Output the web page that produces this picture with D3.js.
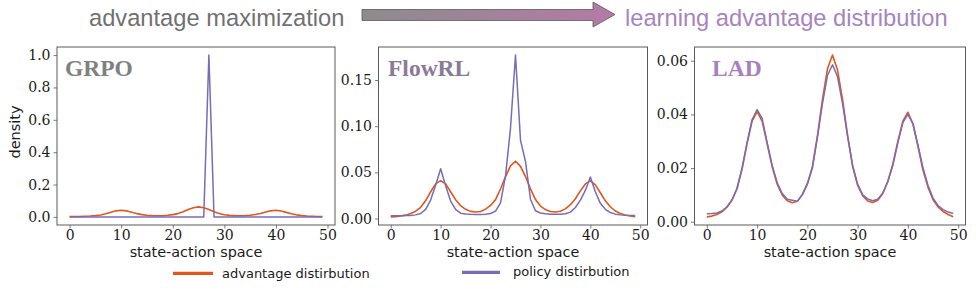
<!DOCTYPE html>
<html>
<head>
<meta charset="utf-8">
<script src="https://cdn.jsdelivr.net/npm/d3@7"></script>
<style>
  html, body { margin: 0; padding: 0; background: #ffffff; }
  svg { display: block; }
</style>
</head>
<body>
<svg id="chart" width="976" height="293"></svg>
<script>
// ---------------- data ----------------
const advantage = [0.0018,0.0021,0.0027,0.0037,0.0054,0.0080,0.0122,0.0195,0.0290,0.0375,
                   0.0410,0.0375,0.0290,0.0205,0.0140,0.0100,0.0078,0.0071,0.0076,0.0102,
                   0.0142,0.0205,0.0320,0.0455,0.0570,0.0621,0.0565,0.0455,0.0322,0.0206,
                   0.0135,0.0097,0.0077,0.0072,0.0080,0.0105,0.0150,0.0215,0.0300,0.0375,
                   0.0408,0.0365,0.0280,0.0192,0.0128,0.0082,0.0055,0.0038,0.0027,0.0019];

const grpoPolicy = [0,0,0,0,0,0,0,0,0,0,
                    0,0,0,0,0,0,0,0,0,0,
                    0,0,0,0,0,0,0,1.0,0,0,
                    0,0,0,0,0,0,0,0,0,0,
                    0,0,0,0,0,0,0,0,0,0];

const flowrlPolicy = [0.0030,0.0030,0.0031,0.0032,0.0034,0.0040,0.0055,0.0100,0.0200,0.0360,
                      0.0540,0.0355,0.0190,0.0100,0.0058,0.0050,0.0046,0.0044,0.0045,0.0048,
                      0.0055,0.0080,0.0170,0.0460,0.0980,0.1770,0.0850,0.0620,0.0210,0.0085,
                      0.0060,0.0052,0.0048,0.0046,0.0047,0.0052,0.0070,0.0120,0.0200,0.0305,
                      0.0450,0.0290,0.0165,0.0100,0.0065,0.0048,0.0040,0.0035,0.0033,0.0032];

const ladPolicy = [0.0030,0.0031,0.0033,0.0040,0.0056,0.0081,0.0125,0.0200,0.0295,0.0380,
                   0.0418,0.0385,0.0295,0.0210,0.0145,0.0105,0.0084,0.0080,0.0076,0.0100,
                   0.0140,0.0200,0.0315,0.0440,0.0545,0.0585,0.0540,0.0440,0.0318,0.0210,
                   0.0140,0.0100,0.0085,0.0078,0.0084,0.0107,0.0150,0.0210,0.0295,0.0370,
                   0.0400,0.0365,0.0285,0.0200,0.0135,0.0088,0.0060,0.0045,0.0036,0.0031];

const panelNames = ["GRPO", "FlowRL", "LAD"];
const policies = [grpoPolicy, flowrlPolicy, ladPolicy];
const xTicks = [0, 10, 20, 30, 40, 50];
const yTicksList = [[0, 0.2, 0.4, 0.6, 0.8, 1.0], [0, 0.05, 0.10, 0.15], [0, 0.02, 0.04, 0.06]];
const yFormats = [".1f", ".2f", ".2f"];
const legendLabels = ["advantage distirbution", "policy distirbution"];
const headerLeft = "advantage maximization";
const headerRight = "learning advantage distribution";

// ---------------- layout / style ----------------
const ORANGE = "#e1561c";
const PURPLE = "#786cb8";
const AXIS = "#5a5a5a";
const TEXT = "#1a1a1a";
const titleColors = ["#808080", "#8a7a99", "#a680bf"];
const boxes = [
  {left: 57, right: 335},
  {left: 378.5, right: 647.5},
  {left: 694.5, right: 965.5}
];
const TOP = 47, BOTTOM = 225;

const svg = d3.select("#chart");

// ---------------- header ----------------
const defs = svg.append("defs");
const grad = defs.append("linearGradient").attr("id", "arrowGrad")
  .attr("x1", "0%").attr("x2", "100%").attr("y1", "0%").attr("y2", "0%");
grad.append("stop").attr("offset", "0%").attr("stop-color", "#8c8c8c");
grad.append("stop").attr("offset", "100%").attr("stop-color", "#b57aa6");

svg.append("text").attr("x", 89).attr("y", 26)
  .attr("font-family", "'Liberation Sans', Arial, sans-serif").attr("font-size", 23.7)
  .attr("fill", "#717171").text(headerLeft);

svg.append("path")
  .attr("d", "M362,9.5 L593,9.5 L593,2 L615,14.5 L593,27 L593,20.5 L362,20.5 Z")
  .attr("fill", "url(#arrowGrad)").attr("stroke", "#5a5a5a").attr("stroke-width", 0.8);

svg.append("text").attr("x", 625).attr("y", 26)
  .attr("font-family", "'Liberation Sans', Arial, sans-serif").attr("font-size", 23.7)
  .attr("fill", "#a784bf").text(headerRight);

// ---------------- panels ----------------
const idx = advantage.map((_, i) => i);
const n = idx.length;

panelNames.forEach((name, p) => {
  const box = boxes[p];
  const policy = policies[p];
  const g = svg.append("g");

  const xPad = (n - 1) * 0.05;
  const x = d3.scaleLinear().domain([0 - xPad, (n - 1) + xPad]).range([box.left, box.right]);

  const all = advantage.concat(policy);
  const [mn, mx] = d3.extent(all);
  const yPad = (mx - mn) * 0.05;
  const y = d3.scaleLinear().domain([mn - yPad, mx + yPad]).range([BOTTOM, TOP]);

  // x axis
  const xAxis = g.append("g").attr("transform", `translate(0,${BOTTOM})`)
    .call(d3.axisBottom(x).tickValues(xTicks).tickFormat(d3.format("d"))
      .tickSizeInner(3.5).tickSizeOuter(0).tickPadding(2));
  // y axis
  const yAxis = g.append("g").attr("transform", `translate(${box.left},0)`)
    .call(d3.axisLeft(y).tickValues(yTicksList[p]).tickFormat(d3.format(yFormats[p]))
      .tickSizeInner(3.5).tickSizeOuter(0).tickPadding(3));

  [xAxis, yAxis].forEach(a => {
    a.select(".domain").remove();
    a.selectAll(".tick line").attr("stroke", AXIS).attr("stroke-width", 0.8);
    a.selectAll(".tick text")
      .attr("font-family", "'DejaVu Serif', serif").attr("font-size", 14).attr("fill", TEXT);
  });

  // frame
  g.append("rect")
    .attr("x", box.left).attr("y", TOP)
    .attr("width", box.right - box.left).attr("height", BOTTOM - TOP)
    .attr("fill", "none").attr("stroke", AXIS).attr("stroke-width", 1);

  const line = d3.line().x((d, i) => x(idx[i])).y(d => y(d));

  g.append("path").datum(advantage).attr("d", line)
    .attr("fill", "none").attr("stroke", ORANGE).attr("stroke-width", 1.6)
    .attr("stroke-linejoin", "round");
  g.append("path").datum(policy).attr("d", line)
    .attr("fill", "none").attr("stroke", PURPLE).attr("stroke-width", 1.5)
    .attr("stroke-linejoin", "round");

  // panel title
  g.append("text").attr("x", box.left + (p === 0 ? 8 : p === 1 ? 9.5 : 17.5)).attr("y", 76)
    .attr("font-family", "'Liberation Serif', 'Times New Roman', serif")
    .attr("font-weight", "bold").attr("font-size", 23.5)
    .attr("fill", titleColors[p]).text(name);

  // x label
  g.append("text").attr("x", (box.left + box.right) / 2).attr("y", 256.5)
    .attr("text-anchor", "middle")
    .attr("font-family", "'DejaVu Sans', sans-serif").attr("font-size", 14.4)
    .attr("fill", TEXT).text("state-action space");

  if (p === 0) {
    g.append("text")
      .attr("transform", `translate(19.5,132) rotate(-90)`)
      .attr("text-anchor", "middle")
      .attr("font-family", "'DejaVu Sans', sans-serif").attr("font-size", 14.5)
      .attr("fill", TEXT).text("density");
  }
});

// ---------------- legend ----------------
const legendItems = [
  {color: ORANGE, x1: 173, x2: 213, ly: 273.3, tx: 222, ty: 277.5},
  {color: PURPLE, x1: 462, x2: 500, ly: 272.3, tx: 513, ty: 276}
];
legendItems.forEach((it, i) => {
  svg.append("line").attr("x1", it.x1).attr("x2", it.x2).attr("y1", it.ly).attr("y2", it.ly)
    .attr("stroke", it.color).attr("stroke-width", 3.2);
  svg.append("text").attr("x", it.tx).attr("y", it.ty)
    .attr("font-family", "'DejaVu Sans', sans-serif").attr("font-size", 13)
    .attr("fill", TEXT).text(legendLabels[i]);
});
</script>
</body>
</html>
